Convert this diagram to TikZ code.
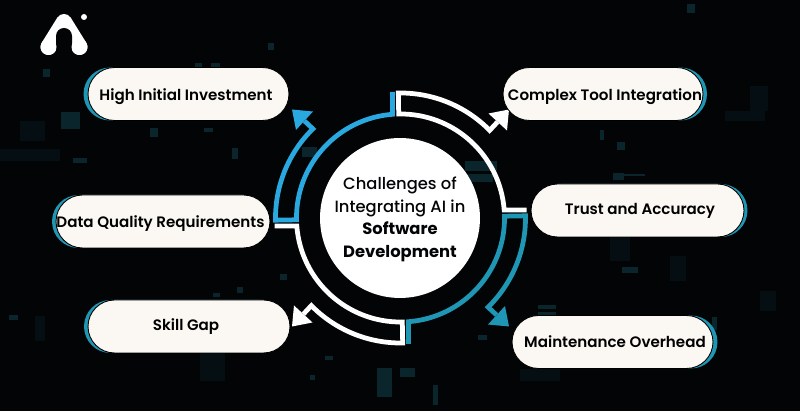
\documentclass[tikz,border=0pt]{standalone}
\usepackage{fontspec}
\setmainfont{Poppins}
\newfontfamily\pillfont{Poppins SemiBold}
\newfontfamily\hubfont{Poppins Medium}
\newfontfamily\hubbold{Poppins Bold}
\usetikzlibrary{shapes.misc}
\definecolor{bgdark}{HTML}{020406}
\definecolor{specklow}{HTML}{0A262C}
\definecolor{speckfaint}{HTML}{050E13}
\definecolor{ringblue}{HTML}{2AA9E0}
\definecolor{ringteal}{HTML}{1F97B4}
\definecolor{pillcream}{HTML}{FBF8F3}
\tikzset{
  pill/.style={rounded rectangle, draw=black, line width=0.5pt, fill=pillcream, minimum height=1.06cm, inner sep=0pt},
  pillback/.style={rounded rectangle, fill=ringteal, minimum height=1.06cm, inner sep=0pt},
  pilltext/.style={font=\pillfont\fontsize{8.6}{10}\selectfont, text=black, inner sep=0pt},
  ringline/.style={line width=0.095cm, line join=miter},
}
\begin{document}
\begin{tikzpicture}[x=0.02cm, y=0.02cm]
    \useasboundingbox (0, 0) rectangle (800, 411);
    \fill[bgdark] (0, 0) rectangle (800, 411);

    % background specks
    \foreach \sx/\sy/\sw/\sh in {20/270/25/20, 0/250/60/12, 750/300/18/25, 725/290/40/10, 610/150/20/25, 670/130/16/25, 35/70/10/25, 760/100/16/20, 200/30/25/40, 520/30/40/12} {
      \fill[speckfaint] (\sx, \sy) rectangle ++(\sw, \sh);
    }
    \foreach \sx/\sy/\sw/\sh in {61/282/19/17, 43/334/7/8, 195/344/7/4, 211/344/9/4, 150/274/8/9, 204/279/9/4, 232/252/6/11, 73/248/14/5, 302/254/15/10, 268/361/6/7, 280/131/7/6, 237/118/6/6, 213/114/7/4, 9/91/9/5, 377/14/15/29, 325/51/8/4, 310/31/5/5, 465/240/32/10, 465/229/28/8, 687/398/8/9, 617/261/8/8, 600/271/4/10, 613/231/11/7, 624/235/21/2, 622/138/16/6, 538/102/18/4, 538/96/18/3, 478/71/9/5, 400/34/15/9, 433/6/5/20, 712/81/5/13} {
      \fill[specklow] (\sx, \sy) rectangle ++(\sw, \sh);
    }

    % logo
    \draw[white, line width=0.32cm, line cap=round, line join=round] (48.5, 364) -- (64, 389) -- (79.5, 364);
    \fill[bgdark] (56, 375) arc[start angle=180, end angle=0, radius=8] -- (72, 350) -- (56, 350) -- cycle;
    \fill[white] (48.5, 364) circle (8);
    \fill[white] (79.5, 364) circle (8);
    \fill[white] (84, 394) circle (3);

    % ring arrows, all one shape turned about the hub
    \foreach \rot/\col in {0/ringblue, -90/white, 180/ringteal, 90/white} {
      \begin{scope}[shift={(400.5, 193)}, rotate=\rot]
        \draw[ringline, \col] (-8, 126) -- (-8, 103.7) arc[start angle=94.4, end angle=181, radius=104] -- (181:125) arc[start angle=181, end angle=134.5, radius=125] -- (-96, 97);
        \fill[\col] (-108.5, 108.5) -- (-87.5, 106.5) -- (-104.5, 88) -- cycle;
      \end{scope}
    }

    % hub
    \node[circle, fill=white, minimum size=3.2cm, inner sep=0pt] (hub) at (400, 193) {};
    \node[font=\hubfont\fontsize{9.3}{12.9}\selectfont, align=center, text=bgdark] (hubtext) at (400, 191.5) {Challenges of\\Integrating AI in\\{\hubbold Software}\\{\hubbold Development}};

    % pills
    \node[pillback, minimum width=4.02cm] (highback) at (184, 317) {};
    \node[pill, minimum width=4.02cm] (high) at (188.5, 317) {};
    \node[pilltext] (hightext) at (186, 314.5) {High Initial Investment};

    \node[pillback, minimum width=4cm] (toolback) at (607, 317) {};
    \node[pill, minimum width=4cm] (tool) at (603, 317) {};
    \node[pilltext] (tooltext) at (605, 314.5) {Complex Tool Integration};

    \node[pillback, minimum width=4.26cm] (trustback) at (641, 200.5) {};
    \node[pill, minimum width=4.26cm] (trust) at (637.5, 200.5) {};
    \node[pilltext] (trusttext) at (640, 200.5) {Trust and Accuracy};

    \node[pillback, minimum width=4.02cm] (maintback) at (617, 69) {};
    \node[pill, minimum width=4.02cm] (maint) at (612.5, 69) {};
    \node[pilltext] (mainttext) at (615, 69) {Maintenance Overhead};

    \node[pillback, minimum width=4.28cm] (databack) at (159, 189.5) {};
    \node[pill, minimum width=4.28cm] (data) at (163, 189.5) {};
    \node[pilltext] (datatext) at (160.5, 187) {Data Quality Requirements};

    \node[pillback, minimum width=4.04cm] (skillback) at (185, 84.5) {};
    \node[pill, minimum width=4.04cm] (skill) at (189, 84.5) {};
    \node[pilltext] (skilltext) at (186, 84) {Skill Gap};
  \end{tikzpicture}
\end{document}
